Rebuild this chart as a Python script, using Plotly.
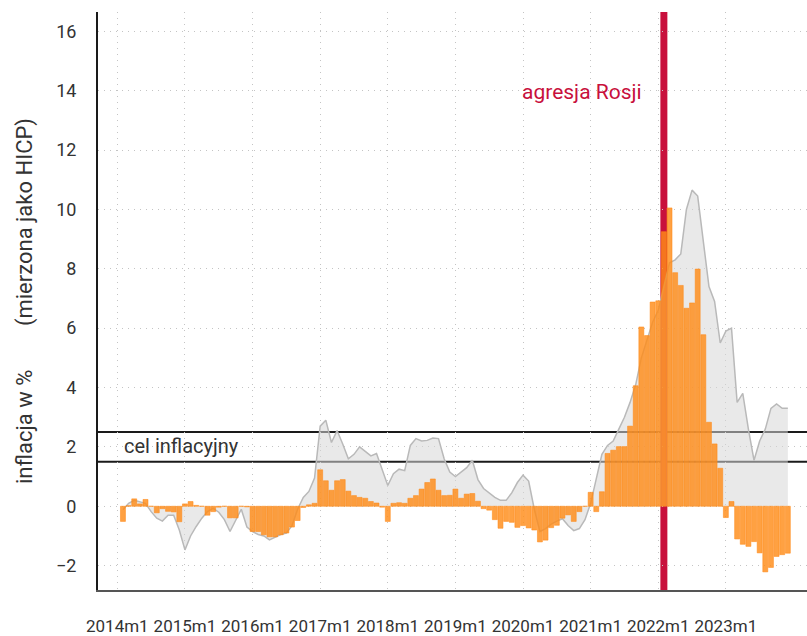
import plotly.graph_objects as go

# ---- data (monthly, 2014m2 .. 2023m12) ----
month_index = list(range(1, 120))  # 0 = 2014m1

bar_values = [
    -0.51, 0.02, 0.25, 0.08, 0.23, 0.0, -0.22, -0.08, -0.17, -0.19, -0.52,
    0.08, 0.16, 0.03, 0.0, -0.30, -0.18, -0.03, 0.0, -0.39, -0.39, 0.0, -0.02,
    -0.85, -0.85, -0.96, -1.03, -1.03, -0.96, -0.90, -0.70, -0.48, -0.04, 0.05, 0.10,
    1.23, 0.86, 0.54, 0.86, 0.90, 0.51, 0.36, 0.30, 0.27, 0.16, 0.11, -0.03,
    -0.51, 0.10, 0.12, 0.10, 0.27, 0.36, 0.58, 0.80, 0.92, 0.54, 0.36, 0.37,
    0.58, 0.27, 0.41, 0.43, 0.17, -0.08, -0.13, -0.45, -0.74, -0.51, -0.54, -0.71,
    -0.65, -0.73, -0.80, -1.20, -1.14, -0.72, -0.64, -0.40, -0.29, -0.51, -0.18, 0.0,
    0.47, -0.18, 0.49, 1.78, 1.89, 2.01, 2.01, 2.70, 4.06, 6.04, 5.75, 6.88,
    6.92, 9.25, 10.05, 7.87, 7.44, 6.67, 6.85, 7.99, 5.78, 2.83, 2.10, 1.28,
    -0.38, 0.16, -1.10, -1.28, -1.35, -1.19, -1.57, -2.21, -2.06, -1.69, -1.63, -1.58,
]

area_values = [
    -0.12, 0.10, 0.20, 0.15, 0.10, -0.18, -0.40, -0.50, -0.30, -0.30, -0.80,
    -1.47, -1.00, -0.68, -0.40, -0.18, -0.07, -0.20, -0.45, -0.85, -0.45, -0.10, -0.70,
    -0.85, -0.95, -1.00, -1.13, -1.05, -0.95, -0.90, -0.65, -0.10, 0.30, 0.50, 0.95,
    2.70, 2.90, 2.15, 2.55, 2.10, 1.60, 1.75, 2.00, 1.85, 1.70, 1.78, 1.20,
    0.70, 1.10, 1.25, 1.20, 2.05, 2.28, 2.20, 2.22, 2.30, 2.28, 1.60, 1.15,
    1.00, 1.15, 1.30, 1.55, 0.90, 0.60, 0.45, 0.30, 0.20, 0.20, 0.45, 0.80,
    1.05, 0.85, -0.10, -0.85, -0.75, -0.60, -0.50, -0.42, -0.65, -0.82, -0.75, -0.45,
    0.10, 0.90, 1.75, 2.05, 2.20, 2.60, 3.00, 3.50, 4.10, 5.00, 5.60, 6.20,
    6.60, 7.40, 8.20, 8.30, 8.50, 10.00, 10.65, 10.45, 8.90, 7.40, 6.90, 5.50,
    5.90, 6.00, 3.50, 3.80, 2.60, 1.55, 2.20, 2.60, 3.30, 3.45, 3.30, 3.30,
]

tick_positions = [0, 12, 24, 36, 48, 60, 72, 84, 96, 108]
tick_labels = ["2014m1", "2015m1", "2016m1", "2017m1", "2018m1",
               "2019m1", "2020m1", "2021m1", "2022m1", "2023m1"]
y_ticks = [-2, 0, 2, 4, 6, 8, 10, 12, 14, 16]

target_low, target_high = 1.5, 2.5
invasion_index = 97  # 2022m2

FONT = "Roboto, Lato, sans-serif"
Y_RANGE = [-2.82, 16.65]

fig = go.Figure()

# grey area (lower subplot layer)
fig.add_trace(go.Scatter(
    x=month_index, y=area_values, mode="lines", fill="tozeroy",
    line=dict(color="#b9b9b9", width=1.5),
    fillcolor="rgba(215,215,215,0.55)",
    hoverinfo="skip", showlegend=False,
))

# orange bars drawn on an overlaid axis so they sit above the grey area
fig.add_trace(go.Bar(
    x=month_index, y=bar_values, yaxis="y2",
    marker=dict(color="rgba(255,140,25,0.82)",
                line=dict(color="rgba(255,135,20,0.9)", width=0.6)),
    showlegend=False,
))

# target band lines
for yv in (target_low, target_high):
    fig.add_shape(type="line", xref="paper", x0=0, x1=1, yref="y", y0=yv, y1=yv,
                  line=dict(color="#1a1a1a", width=2), layer="below")

# invasion marker
fig.add_shape(type="rect", xref="x", x0=invasion_index - 0.62, x1=invasion_index + 0.62,
              yref="paper", y0=0, y1=1, fillcolor="#c8103c", line=dict(width=0),
              layer="below")

fig.add_annotation(x=93.4, y=13.95, xref="x", yref="y",
                   text="agresja Rosji", showarrow=False, xanchor="right", yanchor="middle",
                   font=dict(family=FONT, size=21, color="#c8103c"))

fig.add_annotation(x=0.8, y=1.55, xref="x", yref="y",
                   text="cel inflacyjny", showarrow=False, xanchor="left", yanchor="bottom",
                   font=dict(family=FONT, size=20, color="#333333"))

fig.add_annotation(x=-(98 - 25) / 709, y=0.5, xref="paper", yref="paper",
                   text="inflacja w %" + "\u00a0" * 8 + "(mierzona jako HICP)",
                   textangle=-90, showarrow=False, xanchor="center", yanchor="middle",
                   font=dict(family=FONT, size=22, color="#333333"))

fig.update_layout(
    width=807, height=636,
    margin=dict(l=98, r=0, t=12, b=44),
    plot_bgcolor="white", paper_bgcolor="white",
    bargap=0.12,
    font=dict(family=FONT, color="#333333"),
    xaxis=dict(
        range=[-3.43, 122.4], tickmode="array", tickvals=tick_positions,
        ticktext=tick_labels, tickangle=0, showgrid=True, gridcolor="#c4c4c4",
        griddash="1px,5px", gridwidth=1, zeroline=False, showline=True,
        linecolor="#555555", linewidth=1.5, ticks="", ticklabelstandoff=20,
        tickfont=dict(family=FONT, size=17, color="#333333"),
    ),
    yaxis=dict(
        range=Y_RANGE, tickmode="array", tickvals=y_ticks,
        showgrid=True, gridcolor="#c4c4c4", griddash="1px,5px", gridwidth=1,
        zeroline=False, showline=True, linecolor="#1a1a1a", linewidth=2,
        ticks="", ticklabelstandoff=16, tickfont=dict(family=FONT, size=18, color="#333333"),
    ),
    yaxis2=dict(
        range=Y_RANGE, overlaying="y", visible=False, showgrid=False, zeroline=False,
    ),
)

fig.write_html("out.html", config={"displayModeBar": False},
               post_script="document.body.style.margin='0';")
